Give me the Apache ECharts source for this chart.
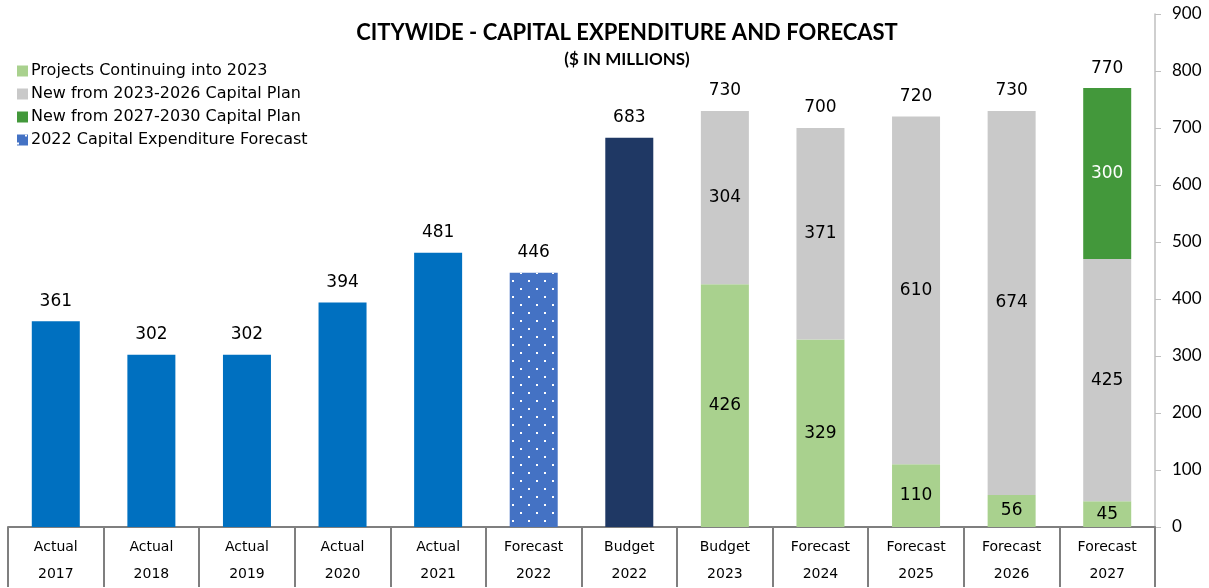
<!DOCTYPE html>
<html>
<head>
<meta charset="utf-8">
<script src="https://cdn.jsdelivr.net/npm/echarts@6/dist/echarts.min.js"></script>
<style>
  html, body { margin: 0; padding: 0; background: #fff; }
  #main { width: 1209px; height: 588px; }
</style>
</head>
<body>
<div id="main"></div>
<script>
// 类别和数值
var catTypes = ['Actual', 'Actual', 'Actual', 'Actual', 'Actual', 'Forecast', 'Budget', 'Budget', 'Forecast', 'Forecast', 'Forecast', 'Forecast'];
var catYears = ['2017', '2018', '2019', '2020', '2021', '2022', '2022', '2023', '2024', '2025', '2026', '2027'];
var historic = [361, 302, 302, 394, 481, null, 683, null, null, null, null, null];
var forecast2022 = [null, null, null, null, null, 446, null, null, null, null, null, null];
var continuing = [null, null, null, null, null, null, null, 426, 329, 110, 56, 45];
var newPlan2326 = [null, null, null, null, null, null, null, 304, 371, 610, 674, 425];
var newPlan2730 = [null, null, null, null, null, null, null, null, null, null, null, 300];
var totals = [361, 302, 302, 394, 481, 446, 683, 730, 700, 720, 730, 770];
var yTicks = [0, 100, 200, 300, 400, 500, 600, 700, 800, 900];

var categories = [];
for (var i = 0; i < catTypes.length; i++) {
    categories.push(catTypes[i] + '\n' + catYears[i]);
}

var chart = echarts.init(document.getElementById('main'));
var labelFont = 'DejaVu Sans';
var insideLabel = {
    show: true,
    position: 'inside',
    fontFamily: labelFont,
    fontSize: 17,
    color: '#000'
};

var option = {
    animation: false,
    backgroundColor: '#fff',
    title: {
        text: 'CITYWIDE - CAPITAL EXPENDITURE AND FORECAST',
        subtext: '($ IN MILLIONS)',
        left: 622,
        top: 17,
        textAlign: 'center',
        itemGap: 7,
        textStyle: { fontFamily: 'Lato', fontWeight: 'bold', fontSize: 22, color: '#000' },
        subtextStyle: { fontFamily: 'Lato', fontWeight: 'bold', fontSize: 17, color: '#000' }
    },
    legend: {
        orient: 'vertical',
        left: 12,
        top: 58,
        itemWidth: 11,
        itemHeight: 11,
        itemGap: 7,
        icon: 'rect',
        textStyle: { fontFamily: labelFont, fontSize: 16, color: '#000', padding: [0, 0, 0, -2] },
        data: ['Projects Continuing into 2023', 'New from 2023-2026 Capital Plan', 'New from 2027-2030 Capital Plan', '2022 Capital Expenditure Forecast']
    },
    grid: { left: 8, right: 54, top: 14, bottom: 56, containLabel: false },
    xAxis: {
        type: 'category',
        data: categories,
        axisLine: { lineStyle: { color: '#7f7f7f', width: 2 } },
        axisTick: { show: true, length: 60, interval: 0, lineStyle: { color: '#7f7f7f', width: 2 } },
        axisLabel: { interval: 0, margin: 7, fontFamily: labelFont, fontSize: 14, lineHeight: 27, color: '#000' }
    },
    yAxis: {
        type: 'value',
        position: 'right',
        min: 0,
        max: 900,
        interval: 100,
        splitLine: { show: false },
        axisLine: { show: true, lineStyle: { color: '#bfbfbf', width: 1.5 } },
        axisTick: { show: true, length: 6, lineStyle: { color: '#bfbfbf' } },
        axisLabel: {
            margin: 17,
            fontFamily: 'Lato',
            fontSize: 17,
            color: '#000',
            formatter: function (v) { return yTicks.indexOf(v) >= 0 ? String(v) : ''; }
        }
    },
    series: [
        {
            name: 'Historic',
            type: 'bar',
            stack: 'a',
            barWidth: 48,
            data: historic,
            itemStyle: {
                color: function (p) { return p.dataIndex === 6 ? '#1f3864' : '#0070c0'; }
            }
        },
        {
            name: '2022 Capital Expenditure Forecast',
            type: 'bar',
            stack: 'a',
            barWidth: 48,
            data: forecast2022,
            itemStyle: {
                color: '#4472c4',
                decal: {
                    symbol: 'rect',
                    symbolSize: 1,
                    color: '#ffffff',
                    dashArrayX: [[2, 14], [0, 8, 2, 6]],
                    dashArrayY: [2, 6],
                    rotation: 0
                }
            }
        },
        {
            name: 'Projects Continuing into 2023',
            type: 'bar',
            stack: 'a',
            barWidth: 48,
            data: continuing,
            itemStyle: { color: '#a9d18e' },
            label: insideLabel
        },
        {
            name: 'New from 2023-2026 Capital Plan',
            type: 'bar',
            stack: 'a',
            barWidth: 48,
            data: newPlan2326,
            itemStyle: { color: '#c9c9c9' },
            label: insideLabel
        },
        {
            name: 'New from 2027-2030 Capital Plan',
            type: 'bar',
            stack: 'a',
            barWidth: 48,
            data: newPlan2730,
            itemStyle: { color: '#43983b' },
            label: { show: true, position: 'inside', fontFamily: labelFont, fontSize: 17, color: '#fff' }
        },
        {
            // 总计标签
            name: 'Total',
            type: 'line',
            data: totals,
            symbol: 'circle',
            symbolSize: 1,
            itemStyle: { color: 'rgba(0,0,0,0)' },
            lineStyle: { width: 0, opacity: 0 },
            z: 10,
            label: { show: true, position: 'top', distance: 11, fontFamily: labelFont, fontSize: 17, color: '#000' }
        }
    ]
};
chart.setOption(option);
</script>
</body>
</html>
